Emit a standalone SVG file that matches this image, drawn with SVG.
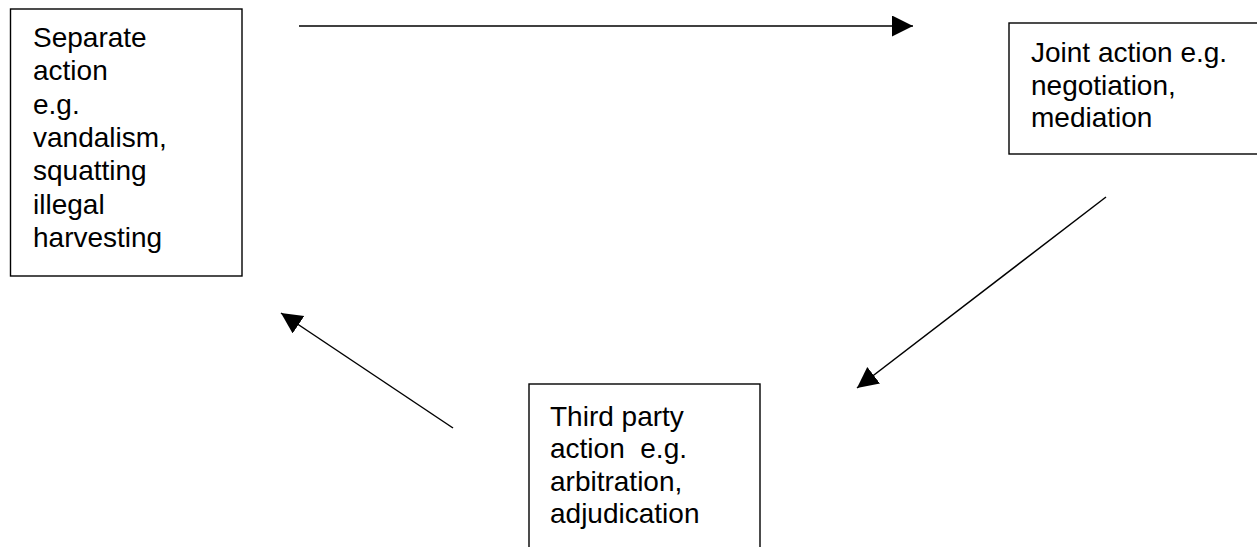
<svg xmlns="http://www.w3.org/2000/svg" width="1257" height="547" viewBox="0 0 1257 547">
<style>
.box{fill:#fff;stroke:#000;stroke-width:1.4}
.t{font-family:"Liberation Sans",Arial,sans-serif;font-size:28px;fill:#000;white-space:pre}
.c{stroke:#000;stroke-width:1.5;fill:none;marker-end:url(#ah)}
</style>
<defs>
<marker id="ah" markerUnits="userSpaceOnUse" markerWidth="24" markerHeight="24" refX="21" refY="10.5" orient="auto" viewBox="0 0 24 24">
<path d="M0,0 L21,10.5 L0,21 z" fill="#000"/>
</marker>
</defs>
<rect width="1257" height="547" fill="#fff"/>
<g id="connectors">
<line class="c" x1="299" y1="26" x2="913" y2="26"/>
<line class="c" x1="1106" y1="197" x2="857" y2="388"/>
<line class="c" x1="453" y1="428" x2="281" y2="313"/>
</g>
<g id="separate">
<rect class="box" x="10.5" y="9" width="231.5" height="267"/>
<text class="t"><tspan x="33" y="47">Separate</tspan><tspan x="33" y="80.3">action</tspan><tspan x="33" y="113.6">e.g.</tspan><tspan x="33" y="146.9">vandalism,</tspan><tspan x="33" y="180.2">squatting</tspan><tspan x="33" y="213.5">illegal</tspan><tspan x="33" y="246.8">harvesting</tspan></text>
</g>
<g id="joint">
<rect class="box" x="1009" y="23" width="260" height="131"/>
<text class="t"><tspan x="1031" y="62">Joint action e.g.</tspan><tspan x="1031" y="94.5">negotiation,</tspan><tspan x="1031" y="127">mediation</tspan></text>
</g>
<g id="third">
<rect class="box" x="529" y="384" width="231" height="180"/>
<text class="t"><tspan x="550" y="425.5">Third party</tspan><tspan x="550" y="458">action  e.g.</tspan><tspan x="550" y="490.5">arbitration,</tspan><tspan x="550" y="523">adjudication</tspan></text>
</g>
</svg>
